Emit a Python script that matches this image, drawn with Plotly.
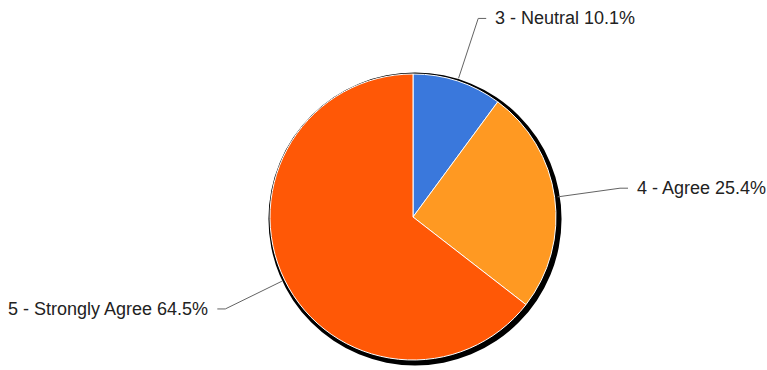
import math
import plotly.graph_objects as go

labels = ["3 - Neutral", "4 - Agree", "5 - Strongly Agree"]
values = [10.1, 25.4, 64.5]
colors = ["#3a78dc", "#ff9922", "#ff5806"]

W, H = 767, 370
CX, CY, R = 413, 217, 143          # pie centre / radius in pixels
SX, SY, SR = 415, 219, 146.5       # shadow disc

def px2paper(x, y):
    return x / W, 1 - y / H

def domain(cx, cy, r, xpad=200):
    return dict(x=[(cx - xpad) / W, (cx + xpad) / W],
                y=[(H - cy - r) / H, (H - cy + r) / H])

fig = go.Figure()
# shadow
fig.add_trace(go.Pie(values=[1], labels=["shadow"], marker=dict(colors=["#000000"]),
                     textinfo="none", hoverinfo="skip", sort=False,
                     domain=domain(SX, SY, SR)))
fig.add_trace(go.Pie(values=values, labels=labels, sort=False, direction="clockwise",
                     rotation=0, textinfo="none",
                     marker=dict(colors=colors, line=dict(color="white", width=1)),
                     domain=domain(CX, CY, R)))

total = sum(values)
shapes, annotations = [], []
cum = 0
for lab, v in zip(labels, values):
    mid = (cum + v / 2) / total * 2 * math.pi
    cum += v
    s, c = math.sin(mid), math.cos(mid)
    x0, y0 = CX + 146 * s, CY - 146 * c
    x1, y1 = CX + 209 * s, CY - 209 * c
    sign = 1 if s >= 0 else -1
    x2 = x1 + 8 * sign
    p0, p1, p2 = px2paper(x0, y0), px2paper(x1, y1), px2paper(x2, y1)
    shapes.append(dict(type="path", xref="paper", yref="paper",
                       path=f"M {p0[0]},{p0[1]} L {p1[0]},{p1[1]} L {p2[0]},{p2[1]}",
                       line=dict(color="#636363", width=1)))
    tx = px2paper(x2 + 7 * sign, y1)
    annotations.append(dict(xref="paper", yref="paper", x=tx[0], y=tx[1],
                            text=f"{lab} {v:.1f}%", showarrow=False,
                            xanchor="left" if sign > 0 else "right", yanchor="middle",
                            font=dict(size=18, color="#222222")))

fig.update_layout(width=W, height=H, margin=dict(l=0, r=0, t=0, b=0),
                  showlegend=False, paper_bgcolor="white",
                  font=dict(family="Liberation Sans, Arial, sans-serif"),
                  shapes=shapes, annotations=annotations)
fig.write_html("out.html", config={"displayModeBar": False},
               post_script="document.body.style.margin='0';")
